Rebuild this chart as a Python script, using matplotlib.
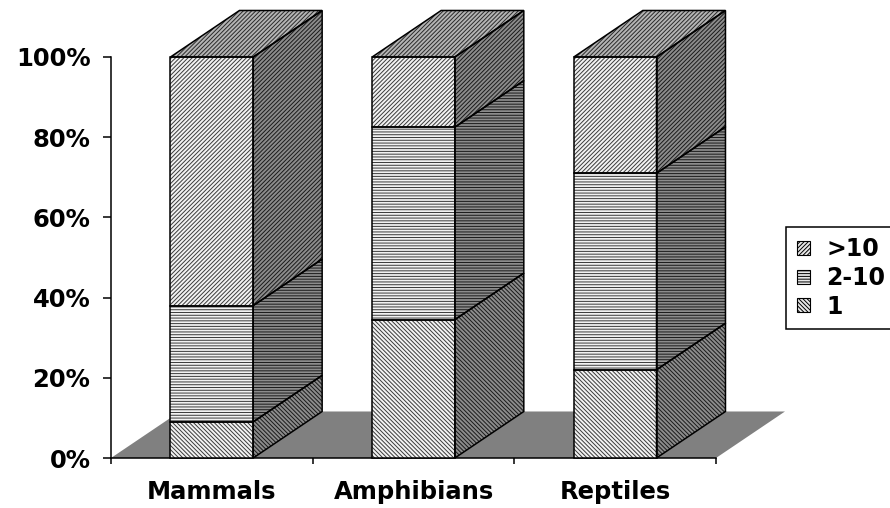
import matplotlib.pyplot as plt
from matplotlib.patches import Polygon, Patch

# данные (доли в %), снизу вверх: 1, 2-10, >10
categories = ['Mammals', 'Amphibians', 'Reptiles']
series = ['1', '2-10', '>10']
share_1 = [9, 34.5, 22]
share_2_10 = [29, 48, 49]
share_over_10 = [62, 17.5, 29]
y_ticks = [0, 20, 40, 60, 80, 100]
y_labels = ['0%', '20%', '40%', '60%', '80%', '100%']

values = [share_1, share_2_10, share_over_10]
hatches = ['\\' * 8, '-' * 6, '/' * 8]

# псевдо-3D: смещение задней грани
bar_w = 0.41
dx = 0.342
dy = 11.6

plt.rcParams['font.family'] = 'DejaVu Sans'
plt.rcParams['font.weight'] = 'bold'
plt.rcParams['hatch.linewidth'] = 0.7

fig = plt.figure(figsize=(8.9, 5.08), dpi=100)
ax = fig.add_axes([111 / 890, 50 / 508, 605 / 890, 401 / 508])
ax.set_xlim(-0.5, 2.5)
ax.set_ylim(0, 100)


def face(verts, fc, hatch, hc, z):
    ax.add_patch(Polygon(verts, closed=True, facecolor=fc, edgecolor=hc,
                         hatch=hatch, linewidth=0, clip_on=False, zorder=z))
    ax.add_patch(Polygon(verts, closed=True, fill=False, edgecolor='black',
                         linewidth=1.1, clip_on=False, zorder=z + 0.1))


# пол
ax.add_patch(Polygon([(-0.5, 0), (2.5, 0), (2.5 + dx, dy), (-0.5 + dx, dy)],
                     closed=True, facecolor='#808080', edgecolor='none',
                     clip_on=False, zorder=1))

for i, cat in enumerate(categories):
    x0, x1 = i - bar_w / 2, i + bar_w / 2
    bottom = 0
    for k, s in enumerate(series):
        v = values[k][i]
        top = bottom + v
        face([(x0, bottom), (x1, bottom), (x1, top), (x0, top)],
             '#f2f2f2', hatches[k], '#3a3a3a', 3)
        face([(x1, bottom), (x1 + dx, bottom + dy), (x1 + dx, top + dy), (x1, top)],
             '#8c8c8c', hatches[k], '#1a1a1a', 3)
        if k == len(series) - 1:
            face([(x0, top), (x1, top), (x1 + dx, top + dy), (x0 + dx, top + dy)],
                 '#b4b4b4', hatches[k], '#2a2a2a', 3)
        bottom = top

for side in ['top', 'right']:
    ax.spines[side].set_visible(False)
for side in ['left', 'bottom']:
    ax.spines[side].set_linewidth(1.1)
    ax.spines[side].set_zorder(2)

ax.set_yticks(y_ticks)
ax.set_yticklabels(y_labels, fontsize=17.5, fontweight='bold')
ax.tick_params(axis='y', direction='out', length=5.8, width=1.1, pad=9)

ax.set_xticks([-0.5, 0.5, 1.5, 2.5])
ax.set_xticklabels([])
ax.tick_params(axis='x', which='major', direction='out', length=4.5, width=1.1)
ax.set_xticks(range(len(categories)), minor=True)
ax.set_xticklabels(categories, minor=True, fontsize=17.5, fontweight='bold')
ax.tick_params(axis='x', which='minor', length=0, pad=16)

handles = [Patch(facecolor='#e8e8e8', edgecolor='black', hatch=hatches[k], linewidth=0.8)
           for k in range(len(series))][::-1]
leg = fig.legend(handles, series[::-1], loc='center left',
                 bbox_to_anchor=(786 / 890, 1 - 278 / 508), borderaxespad=0,
                 fancybox=False, framealpha=1, edgecolor='black',
                 prop={'size': 17, 'weight': 'bold'},
                 handlelength=0.55, handleheight=0.55, handletextpad=0.7,
                 labelspacing=0.2, borderpad=0.45)
leg.get_frame().set_linewidth(1.1)

fig.savefig('out.png', dpi=100)
